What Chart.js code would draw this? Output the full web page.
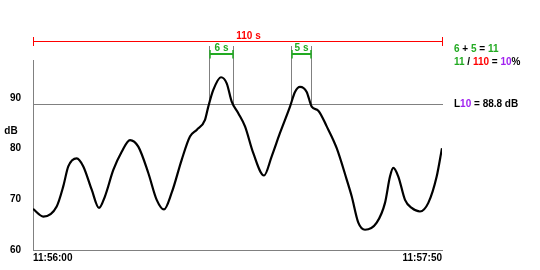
<!DOCTYPE html>
<html>
<head>
<meta charset="utf-8">
<script src="https://cdn.jsdelivr.net/npm/chart.js@4/dist/chart.umd.min.js"></script>
<style>
html,body{margin:0;padding:0;background:#fff;}
#wrap{width:540px;height:270px;position:relative;}
</style>
</head>
<body>
<div id="wrap"><canvas id="c" width="540" height="270"></canvas></div>
<script>
// ---- data ----
const times = [0, 2.77, 6.37, 8.15, 9.49, 11.75, 13.53, 15.79, 17.75, 19.36, 21.6, 23.86, 26.09, 28.32,
  31.01, 33.27, 35.23, 37.3, 39.99, 42.22, 44.03, 46.26, 47.15, 48.49, 50.56, 52.1, 53.44, 55.21, 57.02,
  59.25, 62.13, 64.2, 66.43, 69.12, 70.46, 71.81, 73.61, 74.95, 76.73, 78.99, 81.68, 84.37, 85.71, 87.49,
  89.29, 92.44, 94.67, 96.01, 96.9, 98.25, 100.05, 101.85, 104.08, 106.32, 108.57, 110];
const levels = [68.1, 66.6, 68.6, 72.6, 76.5, 78.1, 76.5, 71.9, 68.3, 70.6, 75.8, 79.4, 81.7, 80.4,
  75.2, 69.9, 68.0, 71.3, 77.8, 82.4, 83.7, 85.7, 88.3, 91.6, 94.1, 92.9, 89.3, 87.0, 84.4,
  79.1, 74.7, 78.5, 83.1, 88.3, 91.2, 92.2, 91.2, 88.3, 87.5, 84.4, 80.1, 73.9, 70.6, 65.4,
  64.0, 65.4, 69.3, 74.5, 76.2, 74.5, 69.9, 68.3, 67.6, 69.3, 74.5, 80.1];
const yTicks = [60, 70, 80, 90];
const xTickValues = [0, 110];
const xTickLabels = ['11:56:00', '11:57:50'];
const l10 = 88.8;
const totalSeconds = 110;
const exceedStart = [47.3, 69.4];
const exceedEnd = [53.8, 74.8];
const exceedLabels = ['6 s', '5 s'];

const RED = '#ff0000', GREEN = '#22aa22', PURPLE = '#a020f0', GREY = '#808080', BLACK = '#000000';
const FONT = 'bold 10px "Liberation Sans", Arial, sans-serif';

const points = times.map((t, i) => ({x: t, y: levels[i]}));

function richText(ctx, x, y, parts) {
  let cx = x;
  parts.forEach(([txt, col]) => {
    ctx.fillStyle = col;
    ctx.fillText(txt, cx, y);
    cx += ctx.measureText(txt).width;
  });
}

const annotations = {
  id: 'annotations',
  beforeDatasetsDraw(chart) {
    const {ctx, scales: {x, y}} = chart;
    ctx.save();
    ctx.strokeStyle = GREY;
    ctx.lineWidth = 1;
    const yL = Math.round(y.getPixelForValue(l10)) + 0.5;
    ctx.beginPath();
    ctx.moveTo(x.left, yL);
    ctx.lineTo(x.right + 1, yL);
    ctx.stroke();
    exceedStart.forEach((s, i) => {
      [s, exceedEnd[i]].forEach(v => {
        const px = Math.round(x.getPixelForValue(v)) + 0.5;
        ctx.beginPath();
        ctx.moveTo(px, 46);
        ctx.lineTo(px, yL);
        ctx.stroke();
      });
    });
    ctx.restore();
  },
  afterDraw(chart) {
    const {ctx, scales: {x, y}} = chart;
    ctx.save();
    ctx.font = FONT;
    const x0 = x.getPixelForValue(0), x1 = x.getPixelForValue(totalSeconds);
    ctx.strokeStyle = RED; ctx.lineWidth = 1;
    ctx.beginPath();
    ctx.moveTo(x0, 41.5); ctx.lineTo(x1, 41.5);
    ctx.moveTo(Math.round(x0) + 0.5, 37); ctx.lineTo(Math.round(x0) + 0.5, 46);
    ctx.moveTo(Math.round(x1) + 0.5, 37); ctx.lineTo(Math.round(x1) + 0.5, 46);
    ctx.stroke();
    ctx.fillStyle = RED;
    ctx.textAlign = 'center'; ctx.textBaseline = 'middle';
    ctx.fillText(totalSeconds + ' s', 248.5, 36);
    ctx.strokeStyle = GREEN; ctx.lineWidth = 2;
    exceedStart.forEach((s, i) => {
      const a = Math.round(x.getPixelForValue(s)) + 1, b = Math.round(x.getPixelForValue(exceedEnd[i]));
      ctx.beginPath();
      ctx.moveTo(a, 54); ctx.lineTo(b, 54);
      ctx.stroke();
      ctx.lineWidth = 1.5;
      ctx.beginPath();
      ctx.moveTo(a, 50); ctx.lineTo(a, 58.5);
      ctx.moveTo(b, 50); ctx.lineTo(b, 58.5);
      ctx.stroke();
      ctx.lineWidth = 2;
      ctx.fillStyle = GREEN;
      ctx.fillText(exceedLabels[i], (a + b) / 2, 48.5);
    });
    ctx.textAlign = 'left';
    richText(ctx, 454, 49.5, [['6', GREEN], [' + ', BLACK], ['5', GREEN], [' = ', BLACK], ['11', GREEN]]);
    richText(ctx, 454, 62, [['11', GREEN], [' / ', BLACK], ['110', RED], [' = ', BLACK], ['10', PURPLE], ['%', BLACK]]);
    richText(ctx, 454, Math.round(y.getPixelForValue(l10)), [['L', BLACK], ['10', PURPLE], [' = ' + l10 + ' dB', BLACK]]);
    ctx.fillStyle = BLACK;
    ctx.textAlign = 'center';
    ctx.fillText('dB', 11, 131);
    ctx.restore();
  }
};

new Chart(document.getElementById('c'), {
  type: 'line',
  data: {
    datasets: [{
      data: points,
      borderColor: BLACK,
      borderWidth: 2.2,
      pointRadius: 0,
      fill: false,
      cubicInterpolationMode: 'monotone'
    }]
  },
  options: {
    responsive: false,
    animation: false,
    events: [],
    layout: {padding: {left: 0, top: 60, right: 98, bottom: 0}},
    plugins: {legend: {display: false}, tooltip: {enabled: false}},
    scales: {
      x: {
        type: 'linear', min: 0, max: totalSeconds,
        grid: {display: false},
        border: {display: true, color: GREY, width: 1},
        afterBuildTicks: s => { s.ticks = xTickValues.map(v => ({value: v})); },
        afterFit: s => { s.height = 20; },
        ticks: {
          color: BLACK, font: {family: '"Liberation Sans", Arial', size: 10, weight: 'bold'},
          align: 'inner', maxRotation: 0, autoSkip: false, padding: -6,
          callback: (v, i) => xTickLabels[i]
        }
      },
      y: {
        min: 60, max: 97.5,
        grid: {display: false},
        border: {display: true, color: GREY, width: 1},
        afterBuildTicks: s => { s.ticks = yTicks.map(v => ({value: v})); },
        afterFit: s => { s.width = 33; },
        ticks: {
          color: BLACK, font: {family: '"Liberation Sans", Arial', size: 10, weight: 'bold'},
          padding: 4
        }
      }
    }
  },
  plugins: [annotations]
});
</script>
</body>
</html>
